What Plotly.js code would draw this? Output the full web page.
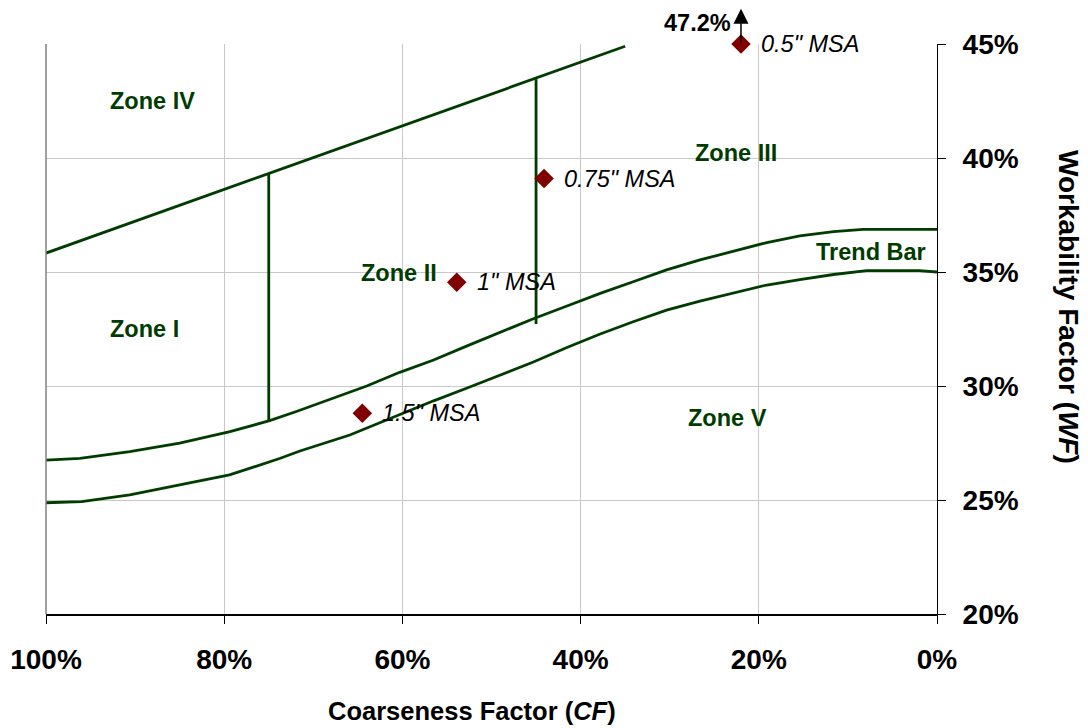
<!DOCTYPE html>
<html>
<head>
<meta charset="utf-8">
<script src="https://cdn.plot.ly/plotly-3.0.1.min.js"></script>
<style>
html,body{margin:0;padding:0;background:#fff;}
#chart{width:1088px;height:728px;}
</style>
</head>
<body>
<div id="chart"></div>
<script>
// ---- data ----
const trendUpperCF = [100, 96.2, 90.6, 85, 79.35, 74.9, 71.9, 67.8, 64, 60.3, 56.5, 52.8, 49.05, 45.3, 41.6, 37.8, 34.1, 30.35, 26.6, 22.9, 19.1, 15.4, 11.6, 8.3, 2, 0];
const trendUpperWF = [26.75, 26.83, 27.12, 27.49, 28.0, 28.48, 28.88, 29.45, 30.0, 30.6, 31.14, 31.75, 32.35, 32.95, 33.5, 34.06, 34.57, 35.09, 35.53, 35.89, 36.29, 36.58, 36.77, 36.87, 36.87, 36.87];
const trendLowerCF = [100, 96, 90.6, 85, 79.4, 73.7, 71.5, 65.9, 60.3, 56.5, 52.8, 49.05, 45.3, 41.6, 37.8, 34.1, 30.35, 26.6, 22.9, 19.1, 15.4, 11.6, 7.9, 2, 0];
const trendLowerWF = [24.88, 24.93, 25.22, 25.66, 26.1, 26.83, 27.15, 27.85, 28.75, 29.35, 29.9, 30.48, 31.05, 31.68, 32.28, 32.82, 33.33, 33.72, 34.08, 34.43, 34.67, 34.89, 35.06, 35.06, 35.0];
const zoneIVLineCF = [100, 35];
const zoneIVLineWF = [35.83, 44.9];
const divider1CF = [75, 75];
const divider1WF = [28.48, 39.3];
const divider2CF = [45, 45];
const divider2WF = [32.72, 43.46];

const msaLabels = ['0.5" MSA', '0.75" MSA', '1" MSA', '1.5" MSA'];
const msaCF = [22.0, 44.1, 53.9, 64.5];
const msaWF = [45.0, 39.1, 34.55, 28.8];
const offChartLabel = '47.2%';
const offChartCF = 22.0;
const offChartArrowTopWF = 46.55;

const zoneLabels = ['Zone IV', 'Zone III', 'Zone II', 'Zone I', 'Zone V', 'Trend Bar'];
const zoneCF = [88.1, 22.6, 60.4, 88.95, 23.5, 7.43];
const zoneWF = [42.5, 40.2, 34.96, 32.48, 28.61, 35.86];

const cfTicks = [100, 80, 60, 40, 20, 0];
const wfTicks = [20, 25, 30, 35, 40, 45];

// ---- styles ----
const GREEN = '#003c00';
const FONT = 'Liberation Sans, Arial, sans-serif';
const lineStyle = {color: GREEN, width: 2.8};
const X_RANGE = [100, 0];
const Y_RANGE = [20, 45];

const traces = [
  {x: trendUpperCF, y: trendUpperWF, mode: 'lines', line: lineStyle, hoverinfo: 'skip'},
  {x: trendLowerCF, y: trendLowerWF, mode: 'lines', line: lineStyle, hoverinfo: 'skip'},
  {x: zoneIVLineCF, y: zoneIVLineWF, mode: 'lines', line: lineStyle, hoverinfo: 'skip'},
  {x: divider1CF, y: divider1WF, mode: 'lines', line: lineStyle, hoverinfo: 'skip'},
  {x: divider2CF, y: divider2WF, mode: 'lines', line: lineStyle, hoverinfo: 'skip'},
  {x: msaCF, y: msaWF, mode: 'markers', cliponaxis: false,
   marker: {symbol: 'diamond', size: 15, color: '#800000'}, text: msaLabels}
];

const annotations = [];
msaLabels.forEach((t, i) => {
  annotations.push({x: msaCF[i], y: msaWF[i], xref: 'x', yref: 'y', text: '<i>' + t + '</i>',
    showarrow: false, xanchor: 'left', yanchor: 'middle', xshift: 18,
    font: {family: FONT, size: 23.5, color: '#000'}});
});
zoneLabels.forEach((t, i) => {
  annotations.push({x: zoneCF[i], y: zoneWF[i], xref: 'x', yref: 'y', text: t,
    showarrow: false, xanchor: 'center', yanchor: 'middle',
    font: {family: FONT, size: 23.5, color: GREEN, weight: 700}});
});
// arrow for the off-chart value (paper coords so it may sit above the plot)
const toPaperX = v => (v - X_RANGE[0]) / (X_RANGE[1] - X_RANGE[0]);
const toPaperY = v => (v - Y_RANGE[0]) / (Y_RANGE[1] - Y_RANGE[0]);
annotations.push({x: toPaperX(offChartCF), y: toPaperY(offChartArrowTopWF), xref: 'paper', yref: 'paper', text: '',
  showarrow: true, ax: 0, ay: 35, arrowhead: 2, arrowsize: 2, arrowwidth: 1.5, arrowcolor: '#000'});
annotations.push({x: toPaperX(offChartCF), y: toPaperY(offChartArrowTopWF), xref: 'paper', yref: 'paper', text: offChartLabel,
  showarrow: false, xanchor: 'right', yanchor: 'middle', xshift: -8, yshift: -14,
  font: {family: FONT, size: 23.5, color: '#000', weight: 700}});
// axis titles
annotations.push({x: 0.478, y: 0, xref: 'paper', yref: 'paper', text: 'Coarseness Factor (<i>CF</i>)',
  showarrow: false, xanchor: 'center', yanchor: 'middle', yshift: -97,
  font: {family: FONT, size: 25.5, color: '#000', weight: 700}});
annotations.push({x: 1.147, y: 0.5386, xref: 'paper', yref: 'paper', text: 'Workability Factor (<i>WF</i>)',
  showarrow: false, xanchor: 'center', yanchor: 'middle', textangle: 90,
  font: {family: FONT, size: 28, color: '#000', weight: 700}});

const layout = {
  width: 1088, height: 728,
  margin: {l: 46, r: 151, t: 44, b: 114},
  paper_bgcolor: '#fff', plot_bgcolor: '#fff',
  showlegend: false,
  font: {family: FONT, color: '#000'},
  xaxis: {
    range: X_RANGE, tickvals: cfTicks, ticktext: cfTicks.map(v => v + '%'),
    showgrid: true, gridcolor: '#c8c8c8', gridwidth: 1, zeroline: false,
    showline: true, linecolor: '#000', linewidth: 1.5,
    ticks: 'outside', ticklen: 8, tickcolor: '#000', tickwidth: 1,
    ticklabelstandoff: 12,
    tickfont: {family: FONT, size: 28, color: '#000', weight: 700}
  },
  yaxis: {
    range: Y_RANGE, side: 'right', tickvals: wfTicks, ticktext: wfTicks.map(v => v + '%'),
    showgrid: true, gridcolor: '#c8c8c8', gridwidth: 1, zeroline: false,
    showline: true, linecolor: '#000', linewidth: 1,
    ticks: 'outside', ticklen: 8, tickcolor: '#000', tickwidth: 1,
    ticklabelstandoff: 11,
    tickfont: {family: FONT, size: 28, color: '#000', weight: 700}
  },
  shapes: [
    {type: 'line', xref: 'paper', yref: 'paper', x0: 0, x1: 0, y0: 0, y1: 1,
     line: {color: '#808080', width: 1.5}}
  ],
  annotations: annotations
};

Plotly.newPlot('chart', traces, layout, {displayModeBar: false, staticPlot: true});
</script>
</body>
</html>
